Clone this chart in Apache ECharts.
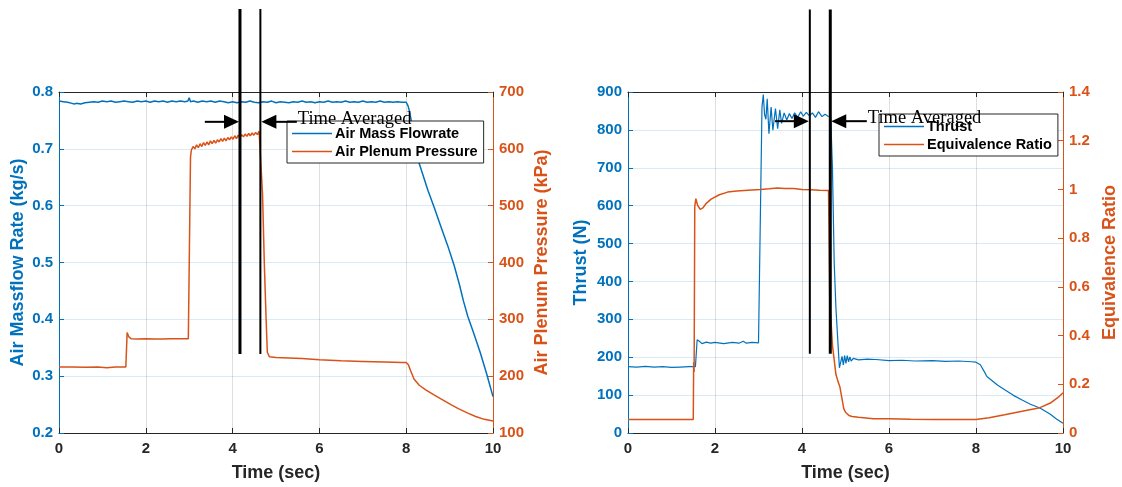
<!DOCTYPE html>
<html>
<head>
<meta charset="utf-8">
<script src="https://cdn.jsdelivr.net/npm/echarts@6/dist/echarts.min.js"></script>
<style>
  html, body { margin: 0; padding: 0; background: #fff; }
  #chart { width: 1122px; height: 487px; }
</style>
</head>
<body>
<div id="chart"></div>
<script>
// ---- Panel 1: air supply (time in s) ----
const massFlow = [
  [0,0.784],[0.1,0.783],[0.2,0.782],[0.3,0.780],[0.35,0.779],[0.4,0.780],[0.5,0.779],[0.6,0.781],[0.7,0.782],[0.8,0.783],
  [0.9,0.782],[1.0,0.784],[1.1,0.783],[1.2,0.784],[1.3,0.782],[1.4,0.783],[1.5,0.784],[1.6,0.783],[1.7,0.782],[1.8,0.784],
  [1.9,0.783],[2.0,0.784],[2.1,0.782],[2.2,0.784],[2.3,0.783],[2.4,0.784],[2.5,0.782],[2.6,0.784],[2.7,0.783],[2.8,0.784],
  [2.9,0.783],[2.97,0.784],[3.0,0.790],[3.03,0.783],[3.1,0.784],[3.2,0.782],[3.3,0.784],[3.4,0.783],[3.5,0.784],[3.6,0.782],
  [3.7,0.784],[3.8,0.783],[3.9,0.781],[4.0,0.783],[4.1,0.781],[4.2,0.783],[4.3,0.782],[4.4,0.784],[4.5,0.782],[4.6,0.781],
  [4.7,0.783],[4.8,0.782],[4.9,0.784],[5.0,0.781],[5.1,0.783],[5.2,0.782],[5.3,0.781],[5.4,0.783],[5.5,0.782],[5.6,0.784],
  [5.7,0.782],[5.8,0.783],[5.9,0.781],[6.0,0.783],[6.1,0.782],[6.2,0.784],[6.3,0.782],[6.4,0.783],[6.5,0.782],[6.6,0.784],
  [6.7,0.782],[6.8,0.783],[6.9,0.782],[7.0,0.784],[7.1,0.782],[7.2,0.783],[7.3,0.782],[7.4,0.784],[7.5,0.782],[7.6,0.783],
  [7.7,0.782],[7.8,0.783],[7.9,0.782],[8.0,0.782],[8.04,0.776],[8.08,0.765],[8.12,0.748],[8.17,0.722],[8.22,0.700],
  [8.28,0.679],[8.36,0.660],[8.5,0.627],[8.65,0.596],[8.8,0.563],[8.95,0.531],[9.1,0.496],[9.22,0.463],[9.32,0.432],
  [9.42,0.405],[9.55,0.377],[9.7,0.343],[9.85,0.305],[10,0.264]
];
const plenumPressure = [
  [0,216],[0.3,216],[0.6,215.5],[0.9,216],[1.1,215],[1.3,216],[1.54,216],[1.57,277],[1.61,269],[1.66,266],[1.8,265.5],
  [2.0,266],[2.2,265.5],[2.4,265.5],[2.57,266],[2.6,269],[2.63,266],[2.8,266],[2.98,266],[3.03,586],[3.05,598],
  [3.09,604],[3.13,600],[3.17,607],[3.21,602],[3.25,609],[3.29,604],[3.33,611],[3.37,606],[3.41,612],[3.45,607],
  [3.49,614],[3.53,609],[3.57,615],[3.61,610],[3.65,616],[3.69,612],[3.73,618],[3.77,613],[3.81,619],[3.85,614],
  [3.89,620],[3.93,616],[3.97,621],[4.01,617],[4.05,623],[4.09,618],[4.13,624],[4.17,620],[4.21,625],[4.25,621],
  [4.29,626],[4.33,622],[4.37,627],[4.41,623],[4.45,628],[4.49,624],[4.53,629],[4.57,625],[4.61,631],[4.65,629],
  [4.69,520],[4.73,400],[4.77,305],[4.8,242],[4.85,234],[5.0,233],[5.3,232],[5.6,231],[6.0,229],[6.5,227],[7.0,226],
  [7.5,225],[7.9,224],[8.0,224],[8.05,220],[8.1,210],[8.18,195],[8.3,184],[8.45,176],[8.64,167],[8.85,158],
  [9.03,150],[9.2,143],[9.42,135],[9.6,129],[9.8,124],[10,121]
];

// ---- Panel 2: engine response ----
const thrust = [
  [0,175],[0.2,174],[0.4,176],[0.6,174],[0.8,175],[1.0,173],[1.2,174],[1.4,175],[1.55,175],[1.59,246],[1.64,242],
  [1.7,236],[1.8,240],[1.9,237],[2.0,239],[2.2,236],[2.4,239],[2.55,237],[2.65,242],[2.72,237],[2.85,239],[3.0,238],
  [3.04,240],[3.08,860],[3.11,893],[3.14,840],[3.17,828],[3.2,882],[3.24,790],[3.29,860],[3.33,799],[3.39,856],
  [3.44,803],[3.49,853],[3.53,817],[3.59,845],[3.65,826],[3.71,843],[3.77,830],[3.83,845],[3.9,833],[3.97,848],
  [4.03,836],[4.1,846],[4.17,837],[4.24,845],[4.31,833],[4.38,848],[4.46,835],[4.53,841],[4.6,836],[4.66,834],
  [4.7,700],[4.74,450],[4.78,330],[4.83,230],[4.86,172],[4.92,202],[4.95,180],[4.98,204],[5.01,184],[5.04,204],
  [5.07,188],[5.1,201],[5.13,190],[5.18,197],[5.3,193],[5.5,195],[5.7,194],[6.0,191],[6.3,192],[6.6,190],[7.0,191],
  [7.3,189],[7.6,190],[7.9,188],[8.0,187],[8.1,180],[8.2,160],[8.25,149],[8.35,140],[8.5,126],[8.66,114],[8.85,100],
  [9.06,87],[9.25,76],[9.47,66],[9.7,50],[9.85,37],[10,26]
];
const equivalenceRatio = [
  [0,0.055],[0.5,0.055],[1.0,0.055],[1.5,0.055],[1.51,0.29],[1.52,0.25],[1.535,0.93],[1.56,0.962],[1.6,0.935],
  [1.66,0.918],[1.72,0.924],[1.8,0.943],[1.91,0.960],[2.1,0.978],[2.29,0.989],[2.5,0.994],[2.67,0.996],[2.85,0.998],
  [3.05,1.0],[3.25,1.003],[3.43,1.006],[3.6,1.004],[3.81,1.004],[4.0,1.0],[4.2,0.999],[4.4,0.997],[4.61,0.996],
  [4.63,0.99],[4.64,0.52],[4.66,0.48],[4.7,0.36],[4.74,0.30],[4.78,0.24],[4.83,0.21],[4.87,0.19],[4.92,0.14],
  [4.96,0.10],[5.0,0.085],[5.08,0.072],[5.15,0.068],[5.3,0.065],[5.64,0.059],[6.0,0.058],[6.5,0.056],[7.0,0.055],
  [7.5,0.055],[8.0,0.055],[8.3,0.063],[8.66,0.075],[9.06,0.089],[9.47,0.104],[9.71,0.123],[9.9,0.148],[10,0.165]
];

// Averaging window bounds (s) and annotation anchors, per panel
const avgWindow = [[4.17, 4.64], [4.18, 4.65]];
const markerSpan = [[0.946, 0.339], [1118, 209]];   // vertical extent of window lines, left-axis units
const arrowLevel = [0.7475, 823];                     // arrow height, left-axis units
const arrowTails = [[3.36, 5.48], [3.38, 5.49]];
const noteText = 'Time Averaged';

const BLUE = '#0072BD', ORANGE = '#D95319', INK = '#262626';
const FONT = '"Liberation Sans", Arial, sans-serif';

function xAxes(grid) {
  return [
    {
      type: 'value', gridIndex: grid, position: 'bottom', min: 0, max: 10, interval: 2,
      name: 'Time (sec)', nameLocation: 'middle', nameGap: 31,
      nameTextStyle: { color: INK, fontFamily: FONT, fontWeight: 'bold', fontSize: 18 },
      axisLine: { onZero: false, lineStyle: { color: INK, width: 1 } },
      axisTick: { inside: true, length: 5, lineStyle: { color: INK } },
      axisLabel: { color: INK, fontFamily: FONT, fontWeight: 'bold', fontSize: 15, margin: 8 },
      splitLine: { show: true, lineStyle: { color: 'rgba(38,38,38,0.15)', width: 1 } }
    },
    {
      type: 'value', gridIndex: grid, position: 'top', min: 0, max: 10, interval: 2,
      axisLine: { onZero: false, lineStyle: { color: INK, width: 1 } },
      axisTick: { inside: true, length: 5, lineStyle: { color: INK } },
      axisLabel: { show: false }, splitLine: { show: false }
    }
  ];
}

function yAxis(grid, side, color, name, min, max, interval, gap, gridLines, fmt) {
  return {
    type: 'value', gridIndex: grid, position: side, min: min, max: max, interval: interval,
    name: name, nameLocation: 'middle', nameGap: gap,
    nameTextStyle: { color: color, fontFamily: FONT, fontWeight: 'bold', fontSize: 18 },
    axisLine: { show: true, onZero: false, lineStyle: { color: color, width: 1 } },
    axisTick: { show: true, inside: true, length: 5, lineStyle: { color: color } },
    axisLabel: { color: color, fontFamily: FONT, fontWeight: 'bold', fontSize: 15, margin: 6, formatter: fmt },
    splitLine: { show: gridLines, lineStyle: { color: 'rgba(0,114,189,0.15)', width: 1 } }
  };
}

function lineSeries(name, data, xi, yi, color, width) {
  return {
    name: name, type: 'line', data: data, xAxisIndex: xi, yAxisIndex: yi,
    showSymbol: false, symbol: 'none', smooth: false, animation: false,
    lineStyle: { color: color, width: width }, itemStyle: { color: color }
  };
}

function legendBox(names, left, top) {
  return {
    data: names, orient: 'vertical', left: left, top: top,
    icon: 'rect', itemWidth: 40, itemHeight: 1.5, itemGap: 3,
    padding: [5, 6, 4, 5], borderColor: INK, borderWidth: 1, backgroundColor: '#fff',
    borderRadius: 0, selectedMode: false,
    textStyle: { color: '#000', fontFamily: FONT, fontWeight: 'bold', fontSize: 14.5, lineHeight: 15, padding: [0, 0, 0, -2] }
  };
}

const option = {
  backgroundColor: '#fff',
  animation: false,
  grid: [
    { left: 59, right: 629, top: 92, bottom: 52, containLabel: false },
    { left: 628, right: 59, top: 92, bottom: 52, containLabel: false }
  ],
  xAxis: [...xAxes(0), ...xAxes(1)],
  yAxis: [
    yAxis(0, 'left', BLUE, 'Air Massflow Rate (kg/s)', 0.2, 0.8, 0.1, 32, true, v => v.toFixed(1)),
    yAxis(0, 'right', ORANGE, 'Air Plenum Pressure (kPa)', 100, 700, 100, 40, false),
    yAxis(1, 'left', BLUE, 'Thrust (N)', 0, 900, 100, 38, true),
    yAxis(1, 'right', ORANGE, 'Equivalence Ratio', 0, 1.4, 0.2, 38, false,
      v => String(Math.round(v * 10) / 10))
  ],
  legend: [
    legendBox(['Air Mass Flowrate', 'Air Plenum Pressure'], 287, 121),
    legendBox(['Thrust', 'Equivalence Ratio'], 879, 114)
  ],
  series: [
    lineSeries('Air Mass Flowrate', massFlow, 0, 0, BLUE, 1.5),
    lineSeries('Air Plenum Pressure', plenumPressure, 0, 1, ORANGE, 1.5),
    lineSeries('Thrust', thrust, 2, 2, BLUE, 1.2),
    lineSeries('Equivalence Ratio', equivalenceRatio, 2, 3, ORANGE, 1.5)
  ]
};

const chart = echarts.init(document.getElementById('chart'), null, { renderer: 'canvas' });
chart.setOption(option);

// Averaging-window annotation: two vertical bars, inward arrows, and a note
function annotate() {
  const elements = [];
  const panelSeries = [0, 2];
  const barWidths = [[3, 2], [2, 3]];
  panelSeries.forEach((si, p) => {
    const at = (x, y) => chart.convertToPixel({ seriesIndex: si }, [x, y]);
    avgWindow[p].forEach((t, k) => {
      const top = at(t, markerSpan[p][0]);
      const bot = at(t, markerSpan[p][1]);
      elements.push({
        type: 'line', z: 100, silent: true,
        shape: { x1: top[0], y1: top[1], x2: bot[0], y2: bot[1] },
        style: { stroke: '#000', lineWidth: barWidths[p][k] }
      });
    });
    const tipL = at(avgWindow[p][0], arrowLevel[p]);
    const tipR = at(avgWindow[p][1], arrowLevel[p]);
    const tailL = at(arrowTails[p][0], arrowLevel[p]);
    const tailR = at(arrowTails[p][1], arrowLevel[p]);
    const head = 15, half = 7;
    const y = tipL[1];
    // right-pointing arrow into the window
    elements.push({ type: 'line', z: 100, silent: true,
      shape: { x1: tailL[0], y1: y, x2: tipL[0] - head, y2: y }, style: { stroke: '#000', lineWidth: 2 } });
    elements.push({ type: 'polygon', z: 100, silent: true,
      shape: { points: [[tipL[0] - 1, y], [tipL[0] - 1 - head, y - half], [tipL[0] - 1 - head, y + half]] },
      style: { fill: '#000' } });
    // left-pointing arrow into the window
    elements.push({ type: 'line', z: 100, silent: true,
      shape: { x1: tipR[0] + head, y1: y, x2: tailR[0], y2: y }, style: { stroke: '#000', lineWidth: 2 } });
    elements.push({ type: 'polygon', z: 100, silent: true,
      shape: { points: [[tipR[0] + 1, y], [tipR[0] + 1 + head, y - half], [tipR[0] + 1 + head, y + half]] },
      style: { fill: '#000' } });
    elements.push({ type: 'text', z: 101, silent: true,
      style: { x: tailR[0] + 1, y: y - 3, text: noteText, fill: '#000',
        font: '18.5px "Liberation Serif", "Times New Roman", serif',
        textAlign: 'left', textVerticalAlign: 'middle' } });
  });
  chart.setOption({ graphic: elements });
}
annotate();
</script>
</body>
</html>
